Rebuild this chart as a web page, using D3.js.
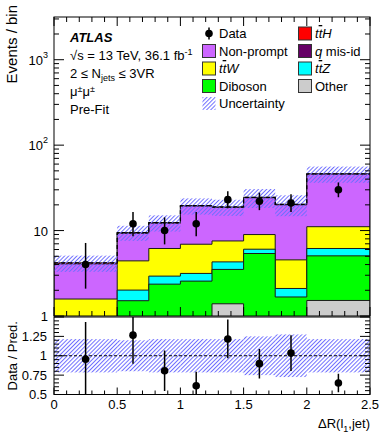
<!DOCTYPE html>
<html><head><meta charset="utf-8">
<script src="https://cdn.jsdelivr.net/npm/d3@7"></script>
<style>
body{margin:0;background:#fff;}
svg{display:block;font-family:"Liberation Sans",Arial,Helvetica,sans-serif;}
</style></head>
<body><svg id="c" width="390" height="440"></svg>
<script>
// ---- data ----
const binEdges = [0, 0.5, 0.75, 1.0, 1.25, 1.5, 1.75, 2.0, 2.5];
const other     = [0.2, 0.3, 0.5, 0.5, 1.39, 0.6, 0.4, 1.52];
const diboson   = [0.4, 1.21, 1.86, 2.06, 2.12, 4.79, 1.27, 3.54];
const ttZ       = [0.2, 0.5, 0.57, 0.59, 0.79, 0.66, 0.43, 1.11];
const ttW       = [0.78, 2.41, 3.24, 3.77, 3.26, 2.93, 2.44, 4.93];
const qMisId    = [0, 0, 0, 0, 0, 0, 0, 0];
const nonPrompt = [2.49, 4.86, 6.03, 12.43, 11.09, 15.22, 15.46, 34.7];
const ttH       = [0.12, 0.2, 0.2, 0.25, 0.25, 0.3, 0.3, 0.4];
const uncRel    = [0.215, 0.2, 0.215, 0.215, 0.215, 0.25, 0.275, 0.215];
const dataVal   = [4, 12, 10, 12, 23, 22, 21, 30];
const dataErrUp = [3.16, 4.53, 4.27, 4.53, 5.90, 5.79, 5.67, 6.58];
const dataErrDn = [1.91, 3.41, 3.11, 3.41, 4.77, 4.66, 4.55, 5.44];
const ratioErr  = [0.48, 0.37, 0.26, 0.18, 0.25, 0.19, 0.23, 0.12];
const xTicks = [0, 0.5, 1, 1.5, 2, 2.5];
const xTickLabels = ["0", "0.5", "1", "1.5", "2", "2.5"];
const ratioTicks = [0.5, 0.75, 1, 1.25];
const ratioTickLabels = ["0.5", "0.75", "1", "1.25"];

const layers = [
  {name:"Other", vals:other, color:"#cccccc"},
  {name:"Diboson", vals:diboson, color:"#00ff00"},
  {name:"ttZ", vals:ttZ, color:"#00ffff"},
  {name:"ttW", vals:ttW, color:"#ffff00"},
  {name:"qmisid", vals:qMisId, color:"#660066"},
  {name:"Non-prompt", vals:nonPrompt, color:"#cc66ff"},
  {name:"ttH", vals:ttH, color:"#ff0000"}
];

// ---- geometry ----
const L = 54, R = 370, T = 17, B1 = 316, T2 = 317, B2 = 394.5;
const svg = d3.select("#c");
const x = d3.scaleLinear().domain([0, 2.5]).range([L, R]);
const y = d3.scaleLog().domain([1, 3162]).range([B1, T]);
const yr = d3.scaleLinear().domain([0.5, 1.5]).range([B2, T2]);

const defs = svg.append("defs");
const pat = defs.append("pattern").attr("id","hatch").attr("patternUnits","userSpaceOnUse")
  .attr("width",2.9).attr("height",6).attr("patternTransform","rotate(45)");
pat.append("rect").attr("x",0).attr("y",0).attr("width",1).attr("height",6)
  .style("fill","rgb(110,110,255)").style("stroke","none");
defs.append("clipPath").attr("id","clipTop").append("rect").attr("x",L).attr("y",T).attr("width",R-L).attr("height",B1-T);
defs.append("clipPath").attr("id","clipBot").append("rect").attr("x",L).attr("y",T2).attr("width",R-L).attr("height",B2-T2);

// cumulative
const nb = dataVal.length;
const cum = [];
let running = new Array(nb).fill(0);
layers.forEach(l => { running = running.map((v,i)=>v + l.vals[i]); cum.push(running.slice()); });
const total = cum[cum.length-1];

function yc(v){ return v <= 0 ? B1 + 50 : y(v); }
function stepPath(vals, base){
  let p = `M${x(binEdges[0])},${base}`;
  for (let i=0;i<nb;i++){ p += `L${x(binEdges[i])},${yc(vals[i])}L${x(binEdges[i+1])},${yc(vals[i])}`; }
  p += `L${x(binEdges[nb])},${base}Z`;
  return p;
}
function stepLine(vals){
  let p = "";
  for (let i=0;i<nb;i++){ p += (i?"L":"M") + `${x(binEdges[i])},${yc(vals[i])}L${x(binEdges[i+1])},${yc(vals[i])}`; }
  return p;
}

const gTop = svg.append("g").attr("clip-path","url(#clipTop)");
for (let k = layers.length-1; k>=0; k--){
  if (k===4) continue; // q mis-id empty
  gTop.append("path").attr("d", stepPath(cum[k], B1+60)).attr("fill", layers[k].color)
    .attr("stroke","#1a1a1a").attr("stroke-width",1);
}
// uncertainty band
gTop.selectAll("rect.unc").data(total).enter().append("rect")
  .attr("x",(d,i)=>x(binEdges[i])).attr("width",(d,i)=>x(binEdges[i+1])-x(binEdges[i]))
  .attr("y",(d,i)=>y(d*(1+uncRel[i]))).attr("height",(d,i)=>y(d*(1-uncRel[i]))-y(d*(1+uncRel[i])))
  .attr("fill","url(#hatch)");
gTop.append("path").attr("d", stepLine(total)).attr("fill","none").attr("stroke","#000")
  .attr("stroke-width",1.3).attr("stroke-dasharray","4,3");

// data
const xc = i => x((binEdges[i]+binEdges[i+1])/2);
gTop.selectAll("line.err").data(dataVal).enter().append("line")
  .attr("x1",(d,i)=>xc(i)).attr("x2",(d,i)=>xc(i))
  .attr("y1",(d,i)=>y(d+dataErrUp[i])).attr("y2",(d,i)=>y(d-dataErrDn[i]))
  .attr("stroke","#000").attr("stroke-width",1.5);
gTop.selectAll("circle.pt").data(dataVal).enter().append("circle")
  .attr("cx",(d,i)=>xc(i)).attr("cy",d=>y(d)).attr("r",3.8).attr("fill","#000");

// ratio panel
const gBot = svg.append("g").attr("clip-path","url(#clipBot)");
gBot.selectAll("rect.runc").data(uncRel).enter().append("rect")
  .attr("x",(d,i)=>x(binEdges[i])).attr("width",(d,i)=>x(binEdges[i+1])-x(binEdges[i]))
  .attr("y",d=>yr(1+d)).attr("height",d=>yr(1-d)-yr(1+d)).attr("fill","url(#hatch)");
gBot.append("line").attr("x1",L).attr("x2",R).attr("y1",yr(1)).attr("y2",yr(1))
  .attr("stroke","#000").attr("stroke-width",1).attr("stroke-dasharray","3,2");
const ratio = dataVal.map((d,i)=>d/total[i]);
gBot.selectAll("line.rerr").data(ratio).enter().append("line")
  .attr("x1",(d,i)=>xc(i)).attr("x2",(d,i)=>xc(i))
  .attr("y1",(d,i)=>yr(d+ratioErr[i])).attr("y2",(d,i)=>yr(d-ratioErr[i]))
  .attr("stroke","#000").attr("stroke-width",1.5);
gBot.selectAll("circle.rpt").data(ratio).enter().append("circle")
  .attr("cx",(d,i)=>xc(i)).attr("cy",d=>yr(d)).attr("r",3.8).attr("fill","#000");

// ---- frames & ticks ----
const ax = svg.append("g").attr("stroke","#000").attr("stroke-width",1).attr("fill","none");
ax.append("rect").attr("x",L).attr("y",T).attr("width",R-L).attr("height",B1-T);
ax.append("rect").attr("x",L).attr("y",T2).attr("width",R-L).attr("height",B2-T2);
function tick(x1,y1,x2,y2){ ax.append("line").attr("x1",x1).attr("y1",y1).attr("x2",x2).attr("y2",y2); }
// x ticks
for (let k=0;k<=25;k++){
  const v = k/10, px = x(v), major = (k%5===0);
  const lt = major?9:5, lr = major?7:4;
  tick(px,B1,px,B1-lt); tick(px,T,px,T+lt);
  tick(px,B2,px,B2-lr);
}
// y log ticks
for (let d=0; d<=3; d++){
  for (let m=1;m<=9;m++){
    const v = m*Math.pow(10,d); if (v>3162) continue;
    const py = y(v), lt = m===1?10:5;
    tick(L,py,L+lt,py); tick(R,py,R-lt,py);
  }
}
// ratio y ticks
for (let k=0;k<=20;k++){
  const v = 0.5 + k*0.05, py = yr(v), major = (k%5===0);
  const lt = major?10:5;
  tick(L,py,L+lt,py); tick(R,py,R-lt,py);
}

// ---- labels ----
const fs = 13;
const txt = svg.append("g").attr("fill","#000").attr("font-size",fs);
xTicks.forEach((v,i)=>{
  txt.append("text").attr("x",x(v)).attr("y",409).attr("text-anchor","middle").text(xTickLabels[i]);
});
ratioTicks.forEach((v,i)=>{
  txt.append("text").attr("x",47).attr("y",yr(v)+4.5).attr("text-anchor","end").text(ratioTickLabels[i]);
});
// log labels
[[1,"1",null],[10,"10",null],[100,"10","2"],[1000,"10","3"]].forEach(([v,b,e])=>{
  const t = txt.append("text").attr("x", e?43:48).attr("y",y(v)+5).attr("text-anchor","end");
  t.append("tspan").text(b);
  if (e){ txt.append("text").attr("x",43).attr("y",y(v)-2).attr("font-size",9).text(e); }
});
// axis titles
txt.append("text").attr("transform","translate(17,5) rotate(-90)").attr("text-anchor","end").attr("font-size",15).text("Events / bin");
txt.append("text").attr("transform",`translate(17,${(T2+B2)/2}) rotate(-90)`).attr("text-anchor","middle").text("Data / Pred.");
const xt = txt.append("text").attr("x",R).attr("y",428).attr("text-anchor","end");
xt.append("tspan").text("ΔR(l");
xt.append("tspan").attr("font-size",9).attr("dy",4).text("1");
xt.append("tspan").attr("dy",-4).text(",jet)");

// ATLAS label block
txt.append("text").attr("x",70).attr("y",42).attr("font-weight","bold").attr("font-style","italic").text("ATLAS");
const l2 = txt.append("text").attr("x",70).attr("y",60);
l2.append("tspan").text("√s = 13 TeV, 36.1 fb");
l2.append("tspan").attr("font-size",9).attr("dy",-5).text("-1");
const l3 = txt.append("text").attr("x",70).attr("y",78);
l3.append("tspan").text("2 ≤ N");
l3.append("tspan").attr("font-size",9).attr("dy",3).text("jets");
l3.append("tspan").attr("dy",-3).text(" ≤ 3VR");
const l4 = txt.append("text").attr("x",70).attr("y",96);
l4.append("tspan").text("μ");
l4.append("tspan").attr("font-size",9).attr("dy",-4).text("±");
l4.append("tspan").attr("dy",4).text("μ");
l4.append("tspan").attr("font-size",9).attr("dy",-4).text("±");
txt.append("text").attr("x",70).attr("y",114).text("Pre-Fit");

// legend
const legend = [
  {col:0,row:0,type:"data",label:"Data"},
  {col:0,row:1,type:"box",color:"#cc66ff",label:"Non-prompt"},
  {col:0,row:2,type:"box",color:"#ffff00",label:"ttW",it:true},
  {col:0,row:3,type:"box",color:"#00ff00",label:"Diboson"},
  {col:0,row:4,type:"unc",label:"Uncertainty"},
  {col:1,row:0,type:"box",color:"#ff0000",label:"ttH",it:true},
  {col:1,row:1,type:"box",color:"#660066",label:"q mis-id",q:true},
  {col:1,row:2,type:"box",color:"#00ffff",label:"ttZ",it:true},
  {col:1,row:3,type:"box",color:"#cccccc",label:"Other"}
];
const colX = [202, 298], rowY0 = 33.5, rowDy = 17.5;
legend.forEach(e=>{
  const bx = colX[e.col], cy = rowY0 + e.row*rowDy;
  if (e.type==="data"){
    svg.append("line").attr("x1",bx+7).attr("x2",bx+7).attr("y1",cy-6).attr("y2",cy+6).attr("stroke","#000").attr("stroke-width",1.5);
    svg.append("circle").attr("cx",bx+7).attr("cy",cy).attr("r",3.8).attr("fill","#000");
  } else if (e.type==="box"){
    svg.append("rect").attr("x",bx+0.5).attr("y",cy-6.5).attr("width",13).attr("height",13).attr("fill",e.color).attr("stroke","#333").attr("stroke-width",1);
  } else {
    svg.append("rect").attr("x",bx+0.5).attr("y",cy-6.5).attr("width",13).attr("height",13).attr("fill","url(#hatch)");
  }
  const t = txt.append("text").attr("x",bx+17).attr("y",cy+4.5);
  if (e.it){
    const p = e.label.slice(2);
    t.attr("font-style","italic");
    t.append("tspan").text("t");
    t.append("tspan").attr("text-decoration","overline").text("t");
    t.append("tspan").text(p);
  } else if (e.q){
    t.append("tspan").attr("font-style","italic").text("q");
    t.append("tspan").text(" mis-id");
  } else t.text(e.label);
});
</script></body></html>
